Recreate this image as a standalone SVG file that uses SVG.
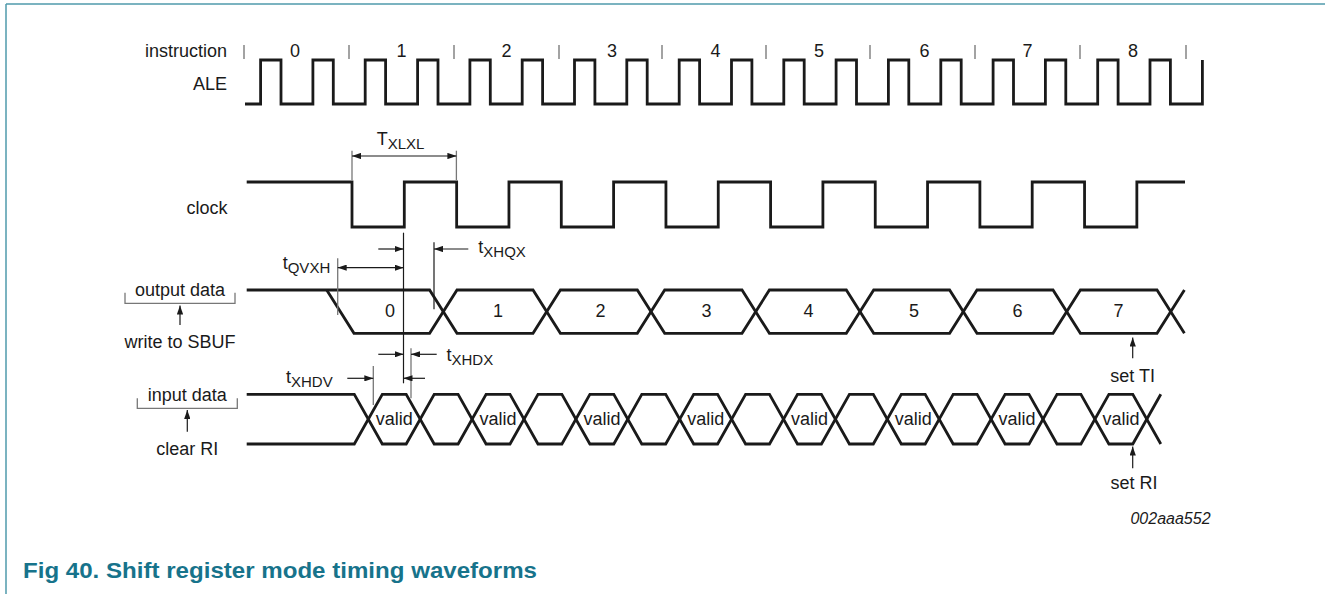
<svg xmlns="http://www.w3.org/2000/svg" width="1325" height="594" viewBox="0 0 1325 594">
<style>
.t{font-family:"Liberation Sans",Arial,sans-serif;font-size:18px;fill:#1a1a1a}
.m{text-anchor:middle}
.e{text-anchor:end}
.s{font-size:15px}
.w{fill:none;stroke:#1a1a1a;stroke-width:2.8;stroke-linejoin:miter;stroke-linecap:butt}
.d{fill:none;stroke:#1a1a1a;stroke-width:1.2}
.g{fill:none;stroke:#777;stroke-width:1.3}
.a{fill:none;stroke:#1a1a1a;stroke-width:1.2;marker-end:url(#ah)}
.aa{fill:none;stroke:#1a1a1a;stroke-width:1.2;marker-end:url(#ah);marker-start:url(#ah)}
.tk{stroke:#666;stroke-width:1.2}
</style>
<defs>
<marker id="ah" viewBox="0 0 10 7" refX="10" refY="3.5" markerWidth="9" markerHeight="6.3" markerUnits="userSpaceOnUse" orient="auto-start-reverse">
<path d="M0,0 L10,3.5 L0,7 z" fill="#1a1a1a"/>
</marker>
</defs>
<rect width="1325" height="594" fill="#fff"/>
<g id="frame">
<line x1="6" y1="4" x2="1325" y2="4" stroke="#4f9aab" stroke-width="1.5"/>
<line x1="6" y1="4" x2="6" y2="594" stroke="#4f9aab" stroke-width="1.5"/>
</g>
<g id="instruction">
<text class="t e" x="227" y="57">instruction</text>
<g class="tk">
<line x1="244" y1="45" x2="244" y2="59"/><line x1="349" y1="45" x2="349" y2="59"/><line x1="454" y1="45" x2="454" y2="59"/><line x1="559" y1="45" x2="559" y2="59"/><line x1="662" y1="45" x2="662" y2="59"/><line x1="766" y1="45" x2="766" y2="59"/><line x1="870" y1="45" x2="870" y2="59"/><line x1="975" y1="45" x2="975" y2="59"/><line x1="1080" y1="45" x2="1080" y2="59"/><line x1="1186" y1="45" x2="1186" y2="59"/>
</g>
<text class="t m" x="295" y="57">0</text><text class="t m" x="401.5" y="57">1</text><text class="t m" x="506.5" y="57">2</text><text class="t m" x="612" y="57">3</text><text class="t m" x="715.5" y="57">4</text><text class="t m" x="819" y="57">5</text><text class="t m" x="924.5" y="57">6</text><text class="t m" x="1027.5" y="57">7</text><text class="t m" x="1133" y="57">8</text>
</g>
<g id="ale">
<text class="t e" x="227" y="90">ALE</text>
<path class="w" d="M245,104 H260.6 V60 H281 V104 H312.9 V60 H333.3 V104 H365.2 V60 H385.6 V104 H417.6 V60 H438 V104 H469.9 V60 H490.3 V104 H522.2 V60 H542.6 V104 H574.5 V60 H594.9 V104 H626.8 V60 H647.2 V104 H679.2 V60 H699.6 V104 H731.5 V60 H751.9 V104 H783.8 V60 H804.2 V104 H836.1 V60 H856.5 V104 H888.4 V60 H908.8 V104 H940.8 V60 H961.2 V104 H993.1 V60 H1013.5 V104 H1045.4 V60 H1065.8 V104 H1097.7 V60 H1118.1 V104 H1150 V60 H1170.4 V104 H1202.4 V60"/>
</g>
<g id="clock">
<text class="t e" x="227.5" y="214">clock</text>
<path class="w" d="M246.7,182 H352 V227 H404.3 V182 H456.65 V227 H508.95 V182 H561.3 V227 H613.6 V182 H665.95 V227 H718.25 V182 H770.6 V227 H822.9 V182 H875.25 V227 H927.55 V182 H979.9 V227 H1032.2 V182 H1084.55 V227 H1136.85 V182 H1185"/>
</g>
<g id="output-data">
<text class="t m" x="180" y="296">output data</text>
<path class="g" d="M125,292.7 V303.3 H235 V292.7"/>
<text class="t m" x="180" y="348">write to SBUF</text>
<path class="w" d="M246.7,290 H429.6 L457,333.3 H533 L560.4,290 H637.3 L664.7,333.3 H742 L769.4,290 H846.3 L873.7,333.3 H949.6 L977,290 H1053 L1080.4,333.3 H1157 L1184.4,290"/>
<path class="w" d="M326.7,290 L354,333.3 H429.6 L457,290 H533 L560.4,333.3 H637.3 L664.7,290 H742 L769.4,333.3 H846.3 L873.7,290 H949.6 L977,333.3 H1053 L1080.4,290 H1157 L1184.4,333.3"/>
<text class="t m" x="390" y="317">0</text><text class="t m" x="498" y="317">1</text><text class="t m" x="600.5" y="317">2</text><text class="t m" x="706.5" y="317">3</text><text class="t m" x="808.5" y="317">4</text><text class="t m" x="914" y="317">5</text><text class="t m" x="1017.5" y="317">6</text><text class="t m" x="1118.5" y="317">7</text>
<text class="t m" x="1132.7" y="381.7">set TI</text>
</g>
<g id="input-data">
<text class="t m" x="187.3" y="400.7">input data</text>
<path class="g" d="M137.3,398.3 V408.3 H237.3 V398.3"/>
<text class="t m" x="187.3" y="455">clear RI</text>
<path class="w" d="M246.7,394.3 H354.3 L382.3,444 H406.2 L434.2,394.3 H458.1 L486.1,444 H510 L538,394.3 H561.9 L589.9,444 H613.8 L641.8,394.3 H665.7 L693.7,444 H717.6 L745.6,394.3 H769.5 L797.5,444 H821.4 L849.4,394.3 H873.3 L901.3,444 H925.2 L953.2,394.3 H977.1 L1005.1,444 H1029 L1057,394.3 H1080.9 L1108.9,444 H1132.8 L1160.8,394.3"/>
<path class="w" d="M246.7,444 H354.3 L382.3,394.3 H406.2 L434.2,444 H458.1 L486.1,394.3 H510 L538,444 H561.9 L589.9,394.3 H613.8 L641.8,444 H665.7 L693.7,394.3 H717.6 L745.6,444 H769.5 L797.5,394.3 H821.4 L849.4,444 H873.3 L901.3,394.3 H925.2 L953.2,444 H977.1 L1005.1,394.3 H1029 L1057,444 H1080.9 L1108.9,394.3 H1132.8 L1160.8,444"/>
<text class="t m" x="394.3" y="425">valid</text><text class="t m" x="498.1" y="425">valid</text><text class="t m" x="601.9" y="425">valid</text><text class="t m" x="705.7" y="425">valid</text><text class="t m" x="809.5" y="425">valid</text><text class="t m" x="913.3" y="425">valid</text><text class="t m" x="1017.1" y="425">valid</text><text class="t m" x="1120.9" y="425">valid</text>
<text class="t m" x="1134" y="489.3">set RI</text>
</g>
<g id="timing-labels">
<text class="t" x="376.7" y="145">T<tspan class="s" dy="3.5">XLXL</tspan></text>
<text class="t" x="478.3" y="253">t<tspan class="s" dy="3.5">XHQX</tspan></text>
<text class="t" x="282.7" y="269">t<tspan class="s" dy="3.5">QVXH</tspan></text>
<text class="t" x="446.5" y="361">t<tspan class="s" dy="3.5">XHDX</tspan></text>
<text class="t" x="286" y="383">t<tspan class="s" dy="3.5">XHDV</tspan></text>
</g>
<g id="connectors">
<line class="g" x1="352" y1="150.7" x2="352" y2="180"/>
<line class="g" x1="456.4" y1="150.7" x2="456.4" y2="180"/>
<line class="aa" x1="352" y1="156" x2="456.4" y2="156"/>
<line class="d" x1="403.5" y1="232.7" x2="403.5" y2="383.3"/>
<line class="g" x1="337.7" y1="258.3" x2="337.7" y2="315"/>
<line class="d" x1="434" y1="242.3" x2="434" y2="309.3"/>
<line class="a" x1="378.3" y1="249" x2="403.5" y2="249"/>
<line class="a" x1="468.3" y1="249" x2="434" y2="249"/>
<line class="aa" x1="337.7" y1="267.7" x2="403.5" y2="267.7"/>
<line class="g" x1="411" y1="348.3" x2="411" y2="398.3"/>
<line class="g" x1="373.3" y1="366" x2="373.3" y2="405"/>
<line class="a" x1="378.3" y1="354.3" x2="403.5" y2="354.3"/>
<line class="a" x1="436.7" y1="354.3" x2="411" y2="354.3"/>
<line class="a" x1="425" y1="378.3" x2="403.5" y2="378.3"/>
<line class="a" x1="347.3" y1="378.3" x2="373.3" y2="378.3"/>
<line class="a" x1="180" y1="325" x2="180" y2="305.5"/>
<line class="a" x1="187.3" y1="431.7" x2="187.3" y2="410"/>
<line class="a" x1="1132.7" y1="358.3" x2="1132.7" y2="337.5"/>
<line class="a" x1="1132.7" y1="468.3" x2="1132.7" y2="446.5"/>
</g>
<g id="caption">
<text x="1170.5" y="524" style="font-family:'Liberation Sans',Arial,sans-serif;font-size:16px;font-style:italic;fill:#1a1a1a;text-anchor:middle">002aaa552</text>
<text x="23" y="578" style="font-family:'Liberation Sans',Arial,sans-serif;font-size:22px;font-weight:bold;fill:#17738b" textLength="514" lengthAdjust="spacingAndGlyphs">Fig 40. Shift register mode timing waveforms</text>
</g>
</svg>
